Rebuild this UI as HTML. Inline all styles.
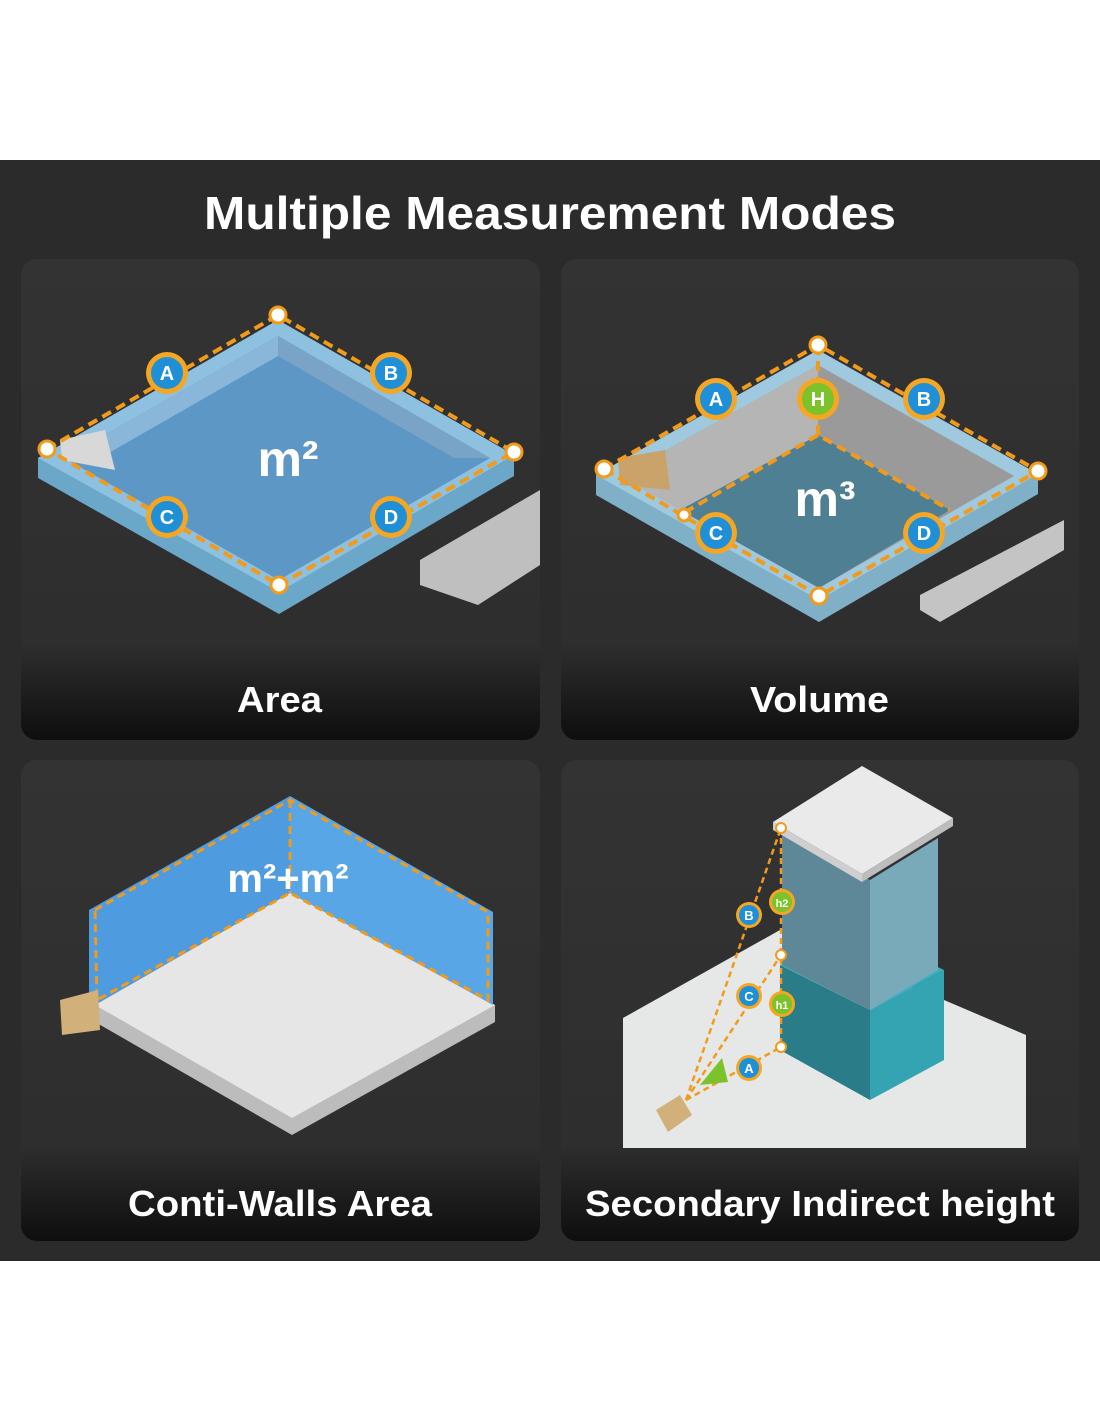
<!DOCTYPE html>
<html><head><meta charset="utf-8"><style>
html,body{margin:0;padding:0;background:#fff;}
svg{display:block}
text{font-family:"Liberation Sans","DejaVu Sans",sans-serif;font-weight:bold}
</style></head><body>
<svg width="1100" height="1422" viewBox="0 0 1100 1422">
<defs>
<linearGradient id="cg" x1="0" y1="0" x2="0" y2="1">
<stop offset="0" stop-color="#333"/><stop offset="0.8" stop-color="#2e2e2e"/><stop offset="1" stop-color="#0e0e0e"/>
</linearGradient>
</defs>
<rect x="0" y="0" width="1100" height="1422" fill="#fff"/>
<rect x="0" y="160" width="1100" height="1101" fill="#2b2b2b"/>
<text x="204" y="229" fill="#fff" font-size="46" textLength="692" lengthAdjust="spacingAndGlyphs">Multiple Measurement Modes</text>

<rect x="21" y="259" width="519" height="481" rx="16" fill="url(#cg)"/>
<rect x="561" y="259" width="518" height="481" rx="16" fill="url(#cg)"/>
<rect x="21" y="760" width="519" height="481" rx="16" fill="url(#cg)"/>
<rect x="561" y="760" width="518" height="481" rx="16" fill="url(#cg)"/>

<!-- AREA -->
<polygon points="38,458 278,320 514,455 514,476 279,614 38,478" fill="#6aa7c9"/>
<polygon points="38,458 278,320 514,455 279,592" fill="#8ec0e0"/>
<polygon points="64,458 278,336 490,458 279,580" fill="#5d97c6"/>
<polygon points="64,458 278,336 278,356 100,458" fill="#8ab6da"/>
<polygon points="278,336 490,458 454,458 278,356" fill="#7aa3c8"/>
<polygon points="420,560 540,490 540,565 478,605 420,585" fill="#bfbfbf"/>
<polygon points="60,440 105,430 115,470 62,460" fill="#d8d8d8"/>
<g stroke="#f29a1a" stroke-width="4" stroke-dasharray="10,6" fill="none">
<polyline points="47,449 278,315 514,452 279,585 47,449"/>
</g>
<g fill="#fff" stroke="#f29a1a" stroke-width="3">
<circle cx="278" cy="315" r="8"/><circle cx="47" cy="449" r="8"/><circle cx="514" cy="452" r="8"/><circle cx="279" cy="585" r="8"/>
</g>
<g font-size="20" text-anchor="middle" fill="#fff">
<circle cx="167" cy="373" r="21" fill="#f5a623"/><circle cx="167" cy="373" r="16" fill="#1f8fd8"/><text x="167" y="380">A</text>
<circle cx="391" cy="373" r="21" fill="#f5a623"/><circle cx="391" cy="373" r="16" fill="#1f8fd8"/><text x="391" y="380">B</text>
<circle cx="167" cy="517" r="21" fill="#f5a623"/><circle cx="167" cy="517" r="16" fill="#1f8fd8"/><text x="167" y="524">C</text>
<circle cx="391" cy="517" r="21" fill="#f5a623"/><circle cx="391" cy="517" r="16" fill="#1f8fd8"/><text x="391" y="524">D</text>
</g>
<text x="288" y="476" fill="#fff" font-size="50" text-anchor="middle">m²</text>
<text x="237" y="712" fill="#fff" font-size="36" textLength="85" lengthAdjust="spacingAndGlyphs">Area</text>

<!-- VOLUME -->
<polygon points="596,475 818,350 1038,474 1038,494 819,622 596,495" fill="#7fb0c8"/>
<polygon points="596,475 818,350 1038,474 819,600" fill="#9fc9de"/>
<polygon points="620,476 818,365 1014,476 819,588" fill="#9a9a9a"/>
<polygon points="680,510 818,435 950,510 819,588" fill="#4e7f92"/>
<polygon points="620,476 818,365 818,435 680,510" fill="#b5b5b5"/>
<polygon points="920,595 1064,520 1064,550 940,622 920,610" fill="#c4c4c4"/>
<polygon points="618,458 665,450 670,490 620,485" fill="#c9a36a"/>
<g stroke="#f29a1a" stroke-width="4" stroke-dasharray="10,6" fill="none">
<polyline points="604,469 818,345 1038,471 819,596 604,469"/>
<polyline points="818,345 818,435 950,510"/><polyline points="818,435 680,515"/>
</g>
<g fill="#fff" stroke="#f29a1a" stroke-width="3">
<circle cx="818" cy="345" r="8"/><circle cx="604" cy="469" r="8"/><circle cx="1038" cy="471" r="8"/><circle cx="819" cy="596" r="8"/><circle cx="684" cy="515" r="6"/>
</g>
<g font-size="20" text-anchor="middle" fill="#fff">
<circle cx="716" cy="399" r="21" fill="#f5a623"/><circle cx="716" cy="399" r="16" fill="#1f8fd8"/><text x="716" y="406">A</text>
<circle cx="818" cy="399" r="21" fill="#f5a623"/><circle cx="818" cy="399" r="16" fill="#7cc22a"/><text x="818" y="406">H</text>
<circle cx="924" cy="399" r="21" fill="#f5a623"/><circle cx="924" cy="399" r="16" fill="#1f8fd8"/><text x="924" y="406">B</text>
<circle cx="716" cy="533" r="21" fill="#f5a623"/><circle cx="716" cy="533" r="16" fill="#1f8fd8"/><text x="716" y="540">C</text>
<circle cx="924" cy="533" r="21" fill="#f5a623"/><circle cx="924" cy="533" r="16" fill="#1f8fd8"/><text x="924" y="540">D</text>
</g>
<text x="825" y="516" fill="#fff" font-size="50" text-anchor="middle">m³</text>
<text x="750" y="712" fill="#fff" font-size="36" textLength="139" lengthAdjust="spacingAndGlyphs">Volume</text>

<!-- CONTI-WALLS -->
<polygon points="95,1005 290,893 495,1005 495,1022 292,1135 95,1022" fill="#bcbcbc"/>
<polygon points="95,1005 290,893 495,1005 292,1118" fill="#e6e6e6"/>
<polygon points="89,910 290,796 290,893 95,1005 89,1000" fill="#4f9be0"/>
<polygon points="290,796 493,912 493,1005 290,893" fill="#58a6e6"/>
<g stroke="#f29a1a" stroke-width="3" stroke-dasharray="8,5" fill="none">
<polyline points="95,910 290,800 488,912 488,1000 290,893 97,1000 95,910"/><line x1="290" y1="800" x2="290" y2="893"/>
</g>
<polygon points="60,1000 98,990 100,1030 62,1035" fill="#d2b07a"/>
<text x="288" y="892" fill="#fff" font-size="40" text-anchor="middle">m²+m²</text>
<text x="128" y="1216" fill="#fff" font-size="36" textLength="304" lengthAdjust="spacingAndGlyphs">Conti-Walls Area</text>

<!-- SECONDARY -->
<polygon points="623,1018 780,930 1026,1035 1026,1148 623,1148" fill="#e6e8e8"/>
<polygon points="780,965 870,1010 870,1100 780,1050" fill="#2a7d88"/>
<polygon points="870,1010 944,970 944,1060 870,1100" fill="#34a3b2"/>
<polygon points="780,965 860,930 944,970 870,1010" fill="#3aaebd"/>
<polygon points="782,830 870,880 870,1010 782,965" fill="#5e8797"/>
<polygon points="870,880 938,838 938,970 870,1010" fill="#78aab9"/>
<polygon points="773,822 862,766 953,818 862,874" fill="#eaeaea"/>
<polygon points="773,822 862,874 862,882 773,830" fill="#cfcfcf"/>
<polygon points="862,874 953,818 953,826 862,882" fill="#bdbdbd"/>
<g stroke="#f29a1a" stroke-width="2.5" stroke-dasharray="6,4" fill="none">
<line x1="686" y1="1100" x2="781" y2="828"/><line x1="686" y1="1100" x2="781" y2="955"/><line x1="686" y1="1100" x2="781" y2="1047"/>
<line x1="781" y1="828" x2="781" y2="1047"/>
</g>
<g fill="#fff" stroke="#f29a1a" stroke-width="2">
<circle cx="781" cy="828" r="5"/><circle cx="781" cy="955" r="5"/><circle cx="781" cy="1047" r="5"/>
</g>
<polygon points="700,1085 722,1058 728,1082" fill="#7cc22a"/>
<polygon points="656,1110 680,1095 692,1115 668,1132" fill="#d2b07a"/>
<g font-size="13" text-anchor="middle" fill="#fff">
<circle cx="749" cy="915" r="13" fill="#f5a623"/><circle cx="749" cy="915" r="10" fill="#1f8fd8"/><text x="749" y="920">B</text>
<circle cx="782" cy="902" r="13" fill="#f5a623"/><circle cx="782" cy="902" r="10" fill="#7cc22a"/><text x="782" y="907" font-size="11">h2</text>
<circle cx="749" cy="996" r="13" fill="#f5a623"/><circle cx="749" cy="996" r="10" fill="#1f8fd8"/><text x="749" y="1001">C</text>
<circle cx="782" cy="1004" r="13" fill="#f5a623"/><circle cx="782" cy="1004" r="10" fill="#7cc22a"/><text x="782" y="1009" font-size="11">h1</text>
<circle cx="749" cy="1068" r="13" fill="#f5a623"/><circle cx="749" cy="1068" r="10" fill="#1f8fd8"/><text x="749" y="1073">A</text>
</g>
<text x="585" y="1216" fill="#fff" font-size="36" textLength="470" lengthAdjust="spacingAndGlyphs">Secondary Indirect height</text>
</svg>
</body></html>
